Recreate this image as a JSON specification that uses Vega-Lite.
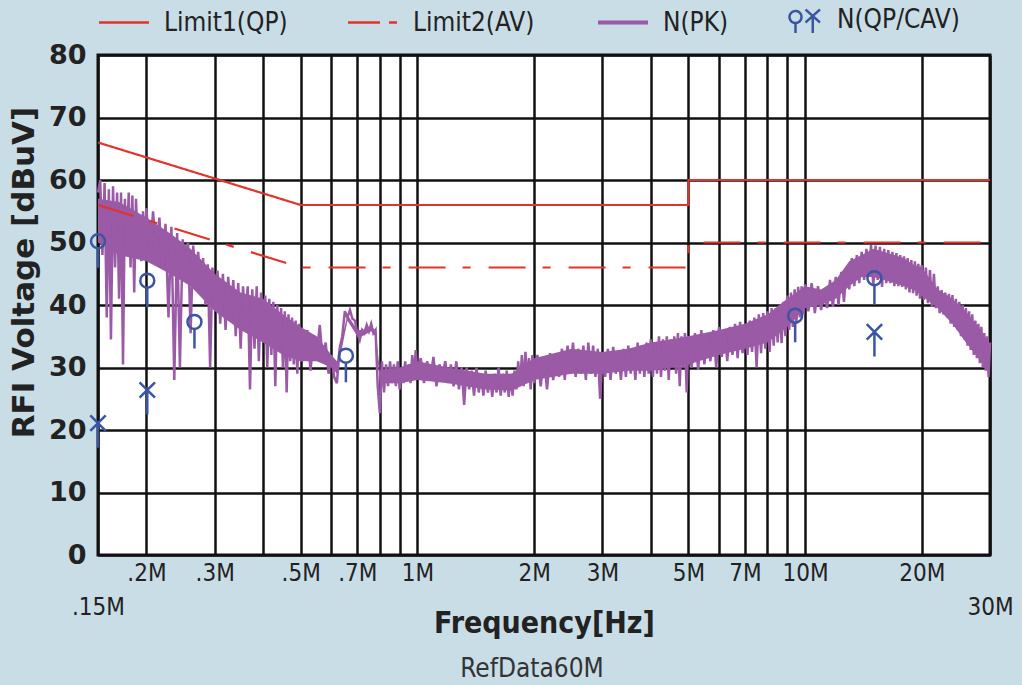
{
  "$schema": "https://vega.github.io/schema/vega-lite/v6.json",
  "autosize": "none",
  "width": 892,
  "height": 500,
  "padding": {"left": 98, "top": 55, "right": 32, "bottom": 130},
  "background": "#c9dde7",
  "title": {
    "text": "RefData60M",
    "orient": "bottom",
    "anchor": "middle",
    "font": "DejaVu Sans Condensed, DejaVu Sans, sans-serif",
    "fontSize": 26,
    "fontWeight": "normal",
    "color": "#333",
    "offset": 18,
    "dx": -12
  },
  "datasets": {
    "band": [
      {"f":0.15,"v":57,"v2":50},{"f":0.17,"v":56.5,"v2":48},{"f":0.2,"v":54,"v2":47},{"f":0.23,"v":51.5,"v2":45},{"f":0.26,"v":49,"v2":43},{"f":0.3,"v":45,"v2":39},{"f":0.35,"v":42,"v2":36},{"f":0.4,"v":41,"v2":34},{"f":0.45,"v":38.5,"v2":32},{"f":0.5,"v":36.5,"v2":31},{"f":0.55,"v":35,"v2":31},{"f":0.6,"v":32,"v2":30},{"f":0.62,"v":31,"v2":29},{"f":0.66,"v":38.5,"v2":37.5},{"f":0.7,"v":36,"v2":35},{"f":0.72,"v":36,"v2":35},{"f":0.76,"v":36.5,"v2":35.8},{"f":0.78,"v":36,"v2":35},{"f":0.8,"v":29.5,"v2":27.5},{"f":0.9,"v":30,"v2":27.5},{"f":1.0,"v":31,"v2":28},{"f":1.2,"v":30,"v2":27.5},{"f":1.5,"v":29,"v2":26.5},{"f":1.75,"v":29,"v2":26.3},{"f":2.0,"v":31.5,"v2":28},{"f":2.5,"v":33,"v2":29},{"f":3.0,"v":32.5,"v2":29},{"f":3.5,"v":33,"v2":29.5},{"f":4.0,"v":34,"v2":29.5},{"f":4.5,"v":34.5,"v2":30},{"f":5.0,"v":35,"v2":30.5},{"f":6.0,"v":36,"v2":32},{"f":7.0,"v":37,"v2":33},{"f":8.0,"v":38.5,"v2":34},{"f":9.0,"v":41,"v2":36.5},{"f":10,"v":43,"v2":39.5},{"f":11,"v":42.5,"v2":40},{"f":12,"v":44,"v2":41},{"f":13,"v":47,"v2":43},{"f":14,"v":48,"v2":44.5},{"f":15,"v":49,"v2":44.5},{"f":16,"v":48.5,"v2":44},{"f":17,"v":48,"v2":43.5},{"f":18,"v":47.5,"v2":43},{"f":19,"v":46.5,"v2":42.5},{"f":20,"v":46,"v2":41.5},{"f":22,"v":42.5,"v2":39.5},{"f":24,"v":41,"v2":37},{"f":26,"v":39,"v2":34},{"f":28,"v":36.5,"v2":31.5},{"f":30,"v":33.5,"v2":29}
    ],
    "pk": [
      {"f":0.150,"v":58},{"f":0.152,"v":60},{"f":0.154,"v":48},{"f":0.156,"v":59.5},{"f":0.158,"v":38},{"f":0.160,"v":58.5},{"f":0.162,"v":34.5},{"f":0.164,"v":59},{"f":0.166,"v":46},{"f":0.168,"v":58},{"f":0.170,"v":41},{"f":0.172,"v":58},{"f":0.174,"v":30.5},{"f":0.176,"v":57},{"f":0.178,"v":48},{"f":0.180,"v":58},{"f":0.182,"v":46},{"f":0.184,"v":57.5},{"f":0.186,"v":42},{"f":0.188,"v":57},{"f":0.190,"v":49},{"f":0.192,"v":54},{"f":0.194,"v":47},{"f":0.196,"v":55},{"f":0.198,"v":49},{"f":0.200,"v":55.5},
      {"f":0.204,"v":47},{"f":0.208,"v":55},{"f":0.212,"v":48},{"f":0.216,"v":54},{"f":0.220,"v":46},{"f":0.224,"v":53},{"f":0.228,"v":38},{"f":0.232,"v":52.5},{"f":0.236,"v":28},{"f":0.240,"v":51.5},{"f":0.244,"v":30},{"f":0.248,"v":50.5},{"f":0.252,"v":44},{"f":0.256,"v":50},{"f":0.260,"v":35.5},{"f":0.264,"v":49.5},{"f":0.268,"v":44},{"f":0.272,"v":48.5},{"f":0.276,"v":42},{"f":0.280,"v":47.5},{"f":0.284,"v":40},{"f":0.288,"v":46.5},{"f":0.292,"v":30},{"f":0.296,"v":46},{"f":0.300,"v":40},
      {"f":0.305,"v":45.5},{"f":0.310,"v":37},{"f":0.315,"v":45},{"f":0.320,"v":36},{"f":0.325,"v":44.5},{"f":0.330,"v":38},{"f":0.335,"v":44},{"f":0.340,"v":35},{"f":0.345,"v":43.5},{"f":0.350,"v":33},{"f":0.355,"v":43},{"f":0.360,"v":37},{"f":0.365,"v":43},{"f":0.370,"v":26.5},{"f":0.375,"v":42.5},{"f":0.380,"v":33},{"f":0.385,"v":43},{"f":0.390,"v":31},{"f":0.395,"v":42},{"f":0.400,"v":34},{"f":0.405,"v":41.5},{"f":0.410,"v":30},{"f":0.415,"v":41},{"f":0.420,"v":32},{"f":0.425,"v":40.5},{"f":0.430,"v":27},{"f":0.435,"v":40},{"f":0.440,"v":33},{"f":0.445,"v":39.5},{"f":0.450,"v":30},{"f":0.455,"v":39},{"f":0.460,"v":26},{"f":0.465,"v":38.5},{"f":0.470,"v":31},{"f":0.475,"v":38},{"f":0.480,"v":30.5},{"f":0.485,"v":37.5},{"f":0.490,"v":29},{"f":0.495,"v":37},{"f":0.500,"v":31},
      {"f":0.51,"v":33},{"f":0.52,"v":36},{"f":0.53,"v":29.5},{"f":0.54,"v":35},{"f":0.55,"v":32},{"f":0.56,"v":36.8},{"f":0.57,"v":31},{"f":0.58,"v":34},{"f":0.59,"v":29},{"f":0.60,"v":32},{"f":0.61,"v":28.5},{"f":0.62,"v":27.5},{"f":0.63,"v":33},{"f":0.64,"v":35},{"f":0.65,"v":39},{"f":0.66,"v":38},{"f":0.67,"v":39.2},{"f":0.68,"v":37.8},{"f":0.69,"v":37.5},{"f":0.70,"v":35.5},{"f":0.71,"v":34.4},{"f":0.72,"v":36},{"f":0.73,"v":35.5},{"f":0.74,"v":36.8},{"f":0.75,"v":35.8},{"f":0.76,"v":37},{"f":0.77,"v":35.5},{"f":0.78,"v":36},{"f":0.79,"v":27},{"f":0.80,"v":22.7},{"f":0.81,"v":31},{"f":0.82,"v":26},{"f":0.83,"v":30.5},{"f":0.84,"v":27},{"f":0.85,"v":31},{"f":0.86,"v":27.5},{"f":0.87,"v":30.5},{"f":0.88,"v":27},{"f":0.89,"v":31},{"f":0.90,"v":26.5},{"f":0.91,"v":30},{"f":0.92,"v":27.5},{"f":0.93,"v":31},{"f":0.94,"v":28},{"f":0.95,"v":30.5},{"f":0.96,"v":27.5},{"f":0.97,"v":32},{"f":0.98,"v":28.5},{"f":0.99,"v":32.8},{"f":1.00,"v":29},
      {"f":1.02,"v":31.5},{"f":1.04,"v":27.5},{"f":1.06,"v":31},{"f":1.08,"v":28},{"f":1.10,"v":31.7},{"f":1.12,"v":27},{"f":1.14,"v":30.5},{"f":1.16,"v":28.5},{"f":1.18,"v":31},{"f":1.20,"v":27.5},{"f":1.22,"v":30.5},{"f":1.24,"v":27},{"f":1.26,"v":31},{"f":1.28,"v":26.5},{"f":1.30,"v":30},{"f":1.32,"v":24},{"f":1.34,"v":30},{"f":1.36,"v":26.5},{"f":1.38,"v":29.5},{"f":1.40,"v":25.5},{"f":1.42,"v":30},{"f":1.44,"v":26},{"f":1.46,"v":29},{"f":1.48,"v":25.5},{"f":1.50,"v":29.5},{"f":1.52,"v":26},{"f":1.54,"v":28.5},{"f":1.56,"v":25.3},{"f":1.58,"v":29},{"f":1.60,"v":26},{"f":1.62,"v":30},{"f":1.64,"v":25.5},{"f":1.66,"v":29},{"f":1.68,"v":26},{"f":1.70,"v":29.5},{"f":1.72,"v":25.3},{"f":1.74,"v":29},{"f":1.76,"v":25.5},{"f":1.78,"v":29.5},{"f":1.80,"v":26.5},{"f":1.82,"v":31},{"f":1.84,"v":27},{"f":1.86,"v":32},{"f":1.88,"v":27},{"f":1.90,"v":32.5},{"f":1.92,"v":27.5},{"f":1.94,"v":31.5},{"f":1.96,"v":26.5},{"f":1.98,"v":32},{"f":2.00,"v":27.5},
      {"f":2.04,"v":32},{"f":2.08,"v":27},{"f":2.12,"v":31.5},{"f":2.16,"v":26.5},{"f":2.20,"v":32.3},{"f":2.24,"v":28},{"f":2.28,"v":32},{"f":2.32,"v":28.5},{"f":2.36,"v":33},{"f":2.40,"v":28},{"f":2.44,"v":33.5},{"f":2.48,"v":29},{"f":2.52,"v":34},{"f":2.56,"v":28.5},{"f":2.60,"v":33},{"f":2.64,"v":29},{"f":2.68,"v":33.5},{"f":2.72,"v":28},{"f":2.76,"v":34},{"f":2.80,"v":29},{"f":2.84,"v":33.5},{"f":2.88,"v":28.5},{"f":2.92,"v":33},{"f":2.96,"v":25},{"f":3.00,"v":32},
      {"f":3.05,"v":28.5},{"f":3.10,"v":33},{"f":3.15,"v":28},{"f":3.20,"v":33.3},{"f":3.25,"v":29},{"f":3.30,"v":32.5},{"f":3.35,"v":28},{"f":3.40,"v":33},{"f":3.45,"v":28.5},{"f":3.50,"v":33.5},{"f":3.55,"v":29},{"f":3.60,"v":33},{"f":3.65,"v":28},{"f":3.70,"v":34},{"f":3.75,"v":29},{"f":3.80,"v":33.5},{"f":3.85,"v":28.5},{"f":3.90,"v":34},{"f":3.95,"v":29},{"f":4.00,"v":34.5},{"f":4.05,"v":28.5},{"f":4.10,"v":34},{"f":4.15,"v":29},{"f":4.20,"v":35},{"f":4.25,"v":28.5},{"f":4.30,"v":34.5},{"f":4.35,"v":29.5},{"f":4.40,"v":35},{"f":4.45,"v":28},{"f":4.50,"v":34.5},{"f":4.55,"v":30},{"f":4.60,"v":35},{"f":4.65,"v":29},{"f":4.70,"v":35.5},{"f":4.75,"v":27},{"f":4.80,"v":35},{"f":4.85,"v":30},{"f":4.90,"v":35.5},{"f":4.95,"v":26},{"f":5.00,"v":35},
      {"f":5.1,"v":30},{"f":5.2,"v":35.5},{"f":5.3,"v":29.6},{"f":5.4,"v":36},{"f":5.5,"v":30.5},{"f":5.6,"v":35.5},{"f":5.7,"v":31},{"f":5.8,"v":36},{"f":5.9,"v":30},{"f":6.0,"v":36.5},{"f":6.1,"v":31.7},{"f":6.2,"v":36},{"f":6.3,"v":31},{"f":6.4,"v":36.5},{"f":6.5,"v":32},{"f":6.6,"v":37},{"f":6.7,"v":31.5},{"f":6.8,"v":37.3},{"f":6.9,"v":32.3},{"f":7.0,"v":37},{"f":7.1,"v":32},{"f":7.2,"v":37.5},{"f":7.3,"v":32.5},{"f":7.4,"v":38},{"f":7.5,"v":30},{"f":7.6,"v":38.5},{"f":7.7,"v":32.3},{"f":7.8,"v":38.7},{"f":7.9,"v":33},{"f":8.0,"v":39},{"f":8.1,"v":32.5},{"f":8.2,"v":39.5},{"f":8.3,"v":33.5},{"f":8.4,"v":39.5},{"f":8.5,"v":34},{"f":8.6,"v":40},{"f":8.7,"v":33.9},{"f":8.8,"v":40.5},{"f":8.9,"v":35},{"f":9.0,"v":41.5},{"f":9.1,"v":36},{"f":9.2,"v":42},{"f":9.3,"v":36.5},{"f":9.4,"v":42.5},{"f":9.5,"v":37},{"f":9.6,"v":42.9},{"f":9.7,"v":38},{"f":9.8,"v":43},{"f":9.9,"v":38.5},{"f":10.0,"v":43.3},
      {"f":10.2,"v":39},{"f":10.4,"v":43.5},{"f":10.6,"v":38.7},{"f":10.8,"v":43},{"f":11.0,"v":39.2},{"f":11.2,"v":42.7},{"f":11.4,"v":39.5},{"f":11.6,"v":44},{"f":11.8,"v":39.7},{"f":12.0,"v":44.5},{"f":12.2,"v":40},{"f":12.4,"v":45.3},{"f":12.6,"v":40.5},{"f":12.8,"v":46},{"f":13.0,"v":42.5},{"f":13.2,"v":47.5},{"f":13.4,"v":43},{"f":13.6,"v":48},{"f":13.8,"v":43.5},{"f":14.0,"v":48.5},{"f":14.2,"v":44},{"f":14.4,"v":49},{"f":14.6,"v":44.5},{"f":14.8,"v":49.6},{"f":15.0,"v":43},{"f":15.2,"v":49.5},{"f":15.4,"v":44},{"f":15.6,"v":49.3},{"f":15.8,"v":42.9},{"f":16.0,"v":49},{"f":16.2,"v":43.5},{"f":16.4,"v":48.8},{"f":16.6,"v":43.5},{"f":16.8,"v":48.5},{"f":17.0,"v":43},{"f":17.2,"v":48.3},{"f":17.4,"v":43},{"f":17.6,"v":48},{"f":17.8,"v":42.9},{"f":18.0,"v":47.8},{"f":18.2,"v":42.5},{"f":18.4,"v":47.5},{"f":18.6,"v":42},{"f":18.8,"v":47.2},{"f":19.0,"v":41.9},{"f":19.2,"v":47},{"f":19.4,"v":41.5},{"f":19.6,"v":46.6},{"f":19.8,"v":41},{"f":20.0,"v":46.4},
      {"f":20.25,"v":40.8},{"f":20.5,"v":46},{"f":20.75,"v":40.3},{"f":21.0,"v":45.6},{"f":21.25,"v":39.7},{"f":21.5,"v":45},{"f":21.75,"v":39.5},{"f":22.0,"v":43},{"f":22.25,"v":38.7},{"f":22.5,"v":42.4},{"f":22.75,"v":38.5},{"f":23.0,"v":42},{"f":23.25,"v":38},{"f":23.5,"v":41.8},{"f":23.75,"v":37},{"f":24.0,"v":41.6},{"f":24.25,"v":36.5},{"f":24.5,"v":41},{"f":24.75,"v":36},{"f":25.0,"v":40.5},{"f":25.25,"v":35},{"f":25.5,"v":40},{"f":25.75,"v":34.5},{"f":26.0,"v":39.5},{"f":26.25,"v":33.5},{"f":26.5,"v":39},{"f":26.75,"v":32.8},{"f":27.0,"v":38.5},{"f":27.25,"v":32},{"f":27.5,"v":37.5},{"f":27.75,"v":31.5},{"f":28.0,"v":37},{"f":28.25,"v":30.7},{"f":28.5,"v":36.5},{"f":28.75,"v":30},{"f":29.0,"v":35.5},{"f":29.25,"v":29.5},{"f":29.5,"v":35},{"f":29.75,"v":28.5},{"f":30.0,"v":34}
    ],
    "limits": [
      {"series":"Limit1(QP)","i":1,"f":0.15,"v":66},
      {"series":"Limit1(QP)","i":2,"f":0.5,"v":56},
      {"series":"Limit1(QP)","i":3,"f":5,"v":56},
      {"series":"Limit1(QP)","i":4,"f":5,"v":60},
      {"series":"Limit1(QP)","i":5,"f":30,"v":60},
      {"series":"Limit2(AV)","i":1,"f":0.15,"v":56},
      {"series":"Limit2(AV)","i":2,"f":0.5,"v":46},
      {"series":"Limit2(AV)","i":3,"f":5,"v":46},
      {"series":"Limit2(AV)","i":4,"f":5,"v":50},
      {"series":"Limit2(AV)","i":5,"f":30,"v":50}
    ],
    "marks": [
      {"kind":"QP","f":0.15,"v":50.2},
      {"kind":"QP","f":0.201,"v":43.9},
      {"kind":"QP","f":0.266,"v":37.3},
      {"kind":"QP","f":0.654,"v":31.9},
      {"kind":"QP","f":9.43,"v":38.3},
      {"kind":"QP","f":15.1,"v":44.3},
      {"kind":"CAV","f":0.15,"v":21.1},
      {"kind":"CAV","f":0.201,"v":26.4},
      {"kind":"CAV","f":15.1,"v":35.7}
    ]
  },
  "encoding": {
    "x": {
      "field": "f",
      "type": "quantitative",
      "scale": {"type": "log", "domain": [0.15, 30], "nice": false},
      "axis": {
        "values": [0.15,0.2,0.3,0.4,0.5,0.6,0.7,0.8,0.9,1,2,3,4,5,6,7,8,9,10,20,30],
        "labelExpr": "indexof([0.15,0.2,0.3,0.5,0.7,1,2,3,5,7,10,20,30], datum.value) < 0 ? '' : (datum.value == 0.15 || datum.value == 30) ? ['', (datum.value < 1 ? replace(toString(datum.value), '0.', '.') : toString(datum.value)) + 'M'] : (datum.value < 1 ? replace(toString(datum.value), '0.', '.') : toString(datum.value)) + 'M'",
        "labelFont": "DejaVu Sans Condensed, DejaVu Sans, sans-serif",
        "labelFontSize": 24,
        "labelColor": "#222",
        "labelPadding": 6,
        "labelLineHeight": 34,
        "labelOverlap": false,
        "labelFlush": false,
        "labelBound": false,
        "title": "Frequency[Hz]",
        "titleFont": "DejaVu Sans Condensed, DejaVu Sans, sans-serif",
        "titleFontSize": 30,
        "titleFontWeight": "bold",
        "titleColor": "#222",
        "titleY": 53,
        "titleBaseline": "top",
        "ticks": false,
        "domain": false,
        "grid": true,
        "gridColor": "#111",
        "gridWidth": 2.5,
        "gridOpacity": 1
      }
    },
    "y": {
      "field": "v",
      "type": "quantitative",
      "scale": {"domain": [0, 80], "nice": false},
      "axis": {
        "values": [0,10,20,30,40,50,60,70,80],
        "labelFont": "DejaVu Sans",
        "labelFontWeight": "bold",
        "labelFontSize": 27,
        "labelColor": "#222",
        "labelPadding": 12,
        "title": "RFI Voltage [dBuV]",
        "titleFont": "DejaVu Sans",
        "titleFontSize": 31,
        "titleFontWeight": "bold",
        "titleColor": "#222",
        "titleX": -74,
        "titleY": 217,
        "titleAlign": "center",
        "titleBaseline": "middle",
        "ticks": false,
        "domain": false,
        "grid": true,
        "gridColor": "#111",
        "gridWidth": 2.5,
        "gridOpacity": 1
      }
    }
  },
  "layer": [
    {
      "data": {"name": "band"},
      "mark": {"type": "area", "color": "#9a5aa6", "opacity": 1},
      "encoding": {
        "y2": {"field": "v2"}
      }
    },
    {
      "data": {"name": "pk"},
      "mark": {"type": "line", "strokeWidth": 2.5},
      "encoding": {
        "color": {"datum": "N(PK)", "type": "nominal"}
      }
    },
    {
      "data": {"name": "limits"},
      "mark": {"type": "line", "strokeWidth": 2.2},
      "encoding": {
        "color": {
          "field": "series",
          "type": "nominal",
          "scale": {
            "domain": ["Limit1(QP)", "Limit2(AV)", "N(PK)", "N(QP/CAV)"],
            "range": ["#e0342e", "#e0342e", "#9a5aa6", "#3a56a3"]
          },
          "legend": {
            "orient": "none",
            "legendX": 13,
            "legendY": -48,
            "direction": "horizontal",
            "title": null,
            "padding": 0,
            "symbolType": "stroke",
            "symbolSize": 2500,
            "symbolStrokeWidth": 2.5,
            "labelFont": "DejaVu Sans Condensed, DejaVu Sans, sans-serif",
            "labelFontSize": 26,
            "labelColor": "#222",
            "labelOffset": 27,
            "columnPadding": 55,
            "encode": {
              "symbols": {
                "update": {
                  "shape": {"signal": "datum.value === 'N(QP/CAV)' ? 'M0.18,-0.12 A0.24,0.24 0 1,1 -0.30,-0.12 A0.24,0.24 0 1,1 0.18,-0.12 M-0.06,0.12 L-0.06,0.52 M0.34,-0.42 L0.92,0.1 M0.92,-0.42 L0.34,0.1 M0.63,-0.16 L0.63,0.52' : 'stroke'"},
                  "strokeDash": {"signal": "datum.value === 'Limit2(AV)' ? [32,9,8,200] : [1,0]"},
                  "strokeWidth": {"signal": "datum.value === 'N(PK)' ? 4 : 2.5"},
                  "fill": {"value": "transparent"}
                }
              }
            }
          }
        },
        "strokeDash": {
          "field": "series",
          "type": "nominal",
          "scale": {"domain": ["Limit1(QP)", "Limit2(AV)"], "range": [[1, 0], [37, 17, 8, 18]]},
          "legend": null
        },
        "order": {"field": "i", "type": "quantitative"}
      }
    },
    {
      "data": {"name": "marks"},
      "mark": {"type": "point", "filled": false, "strokeWidth": 2.5, "size": 196, "opacity": 1},
      "encoding": {
        "color": {"datum": "N(QP/CAV)", "type": "nominal"},
        "shape": {
          "field": "kind",
          "type": "nominal",
          "scale": {
            "domain": ["QP", "CAV"],
            "range": [
              "M0,-1 A1,1 0 1,1 0,1 A1,1 0 1,1 0,-1 M0,1 L0,3.8",
              "M-1.1,-1.1 L1.1,1.1 M1.1,-1.1 L-1.1,1.1 M0,0 L0,3.5"
            ]
          },
          "legend": null
        }
      }
    }
  ],
  "config": {
    "view": {"stroke": "#111", "strokeWidth": 3, "fill": "white"}
  }
}
